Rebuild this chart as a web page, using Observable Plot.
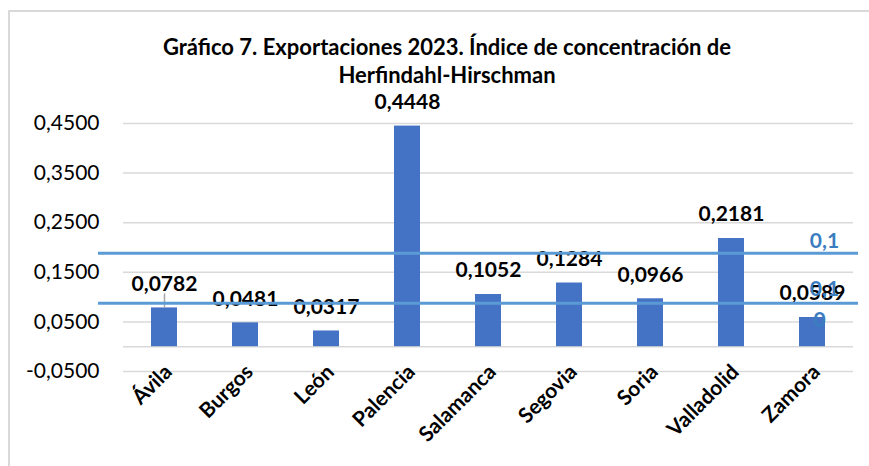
<!DOCTYPE html>
<html><head><meta charset="utf-8">
<script src="https://cdn.jsdelivr.net/npm/d3@7"></script>
<script src="https://cdn.jsdelivr.net/npm/@observablehq/plot@0.6"></script>
<style>
html,body{margin:0;padding:0;background:#fff;overflow:hidden;}
#wrap{position:relative;width:869px;height:466px;overflow:hidden;font-family:Lato,sans-serif;background:#fff;}
#bTop{position:absolute;left:8px;top:10px;width:861px;height:2px;background:#d9d9d9;}
#bLeft{position:absolute;left:8px;top:10px;width:2px;height:456px;background:#d9d9d9;}
#title{position:absolute;left:0;width:894px;top:33px;text-align:center;font-weight:bold;font-size:22px;line-height:28px;color:#000;}
#chart svg{position:absolute;left:0;top:0;}
</style>
</head><body>
<div id="wrap">
  <div id="bTop"></div>
  <div id="bLeft"></div>
  <div id="title">Gráfico 7. Exportaciones 2023. Índice de concentración de<br>Herfindahl-Hirschman</div>
  <div id="chart"></div>
</div>
<script>
const categories = ["Ávila","Burgos","León","Palencia","Salamanca","Segovia","Soria","Valladolid","Zamora"];
const values = [0.0782,0.0481,0.0317,0.4448,0.1052,0.1284,0.0966,0.2181,0.0589];
const yTicks = [-0.05,0.05,0.15,0.25,0.35,0.45];
const refLines = [0.1885,0.0877];
const refLabels = ["0,1","0,1","0"];

const fmt = d => d.toFixed(4).replace(".", ",");
const data = categories.map((c,i)=>({c, v: values[i]}));
const last = categories[categories.length-1];

const plot = Plot.plot({
  width: 869, height: 466,
  marginLeft: 98, marginRight: 11, marginTop: 123, marginBottom: 95,
  style: {fontFamily: "Lato, sans-serif", background: "transparent", overflow: "visible"},
  x: {domain: categories, paddingInner: 0.68, paddingOuter: 0.34, insetLeft: 24.5, insetRight: 5.5, label: null},
  y: {domain: [-0.05, 0.45], label: null},
  marks: [
    Plot.ruleY(yTicks, {stroke: "#d9d9d9", strokeWidth: 1.5, insetLeft: 25, insetRight: 5}),
    Plot.ruleY([0], {stroke: "#d9d9d9", strokeWidth: 1.5, insetLeft: 25, insetRight: 5}),
    Plot.axisY({ticks: yTicks, tickSize: 0, tickPadding: -1, tickFormat: fmt, fontSize: 21, fill: "#000", label: null}),
    Plot.axisX({tickSize: 0, tickRotate: -45, tickPadding: -3, dx: 4, fontSize: 21, fontWeight: "bold", fill: "#000", label: null}),
    Plot.barY(data, {x: "c", y: "v", fill: "#4472C4"}),
    Plot.ruleX([data[0]], {x: "c", y1: "v", y2: d => d.v + 0.028, stroke: "#a6a6a6", strokeWidth: 1.5}),
    Plot.text(data, {x: "c", y: "v", text: d => fmt(d.v), dy: -24, fontSize: 21, fontWeight: "bold", fill: "#000"}),
    Plot.ruleY(refLines, {stroke: "#5B9BD5", strokeWidth: 3}),
    Plot.text([refLabels[0]], {x: () => last, y: () => refLines[0], text: d => d, dx: 12, dy: -12, fontSize: 21, fontWeight: "bold", fill: "#3a7dc0"}),
    Plot.text([refLabels[1]], {x: () => last, y: () => refLines[1], text: d => d, dx: 12, dy: -14, fontSize: 21, fontWeight: "bold", fill: "#3a7dc0"}),
    Plot.text([refLabels[2]], {x: () => last, y: () => refLines[1], text: d => d, dx: 7, dy: 17, fontSize: 21, fontWeight: "bold", fill: "#3a7dc0"})
  ]
});
document.getElementById("chart").appendChild(plot);
</script>
</body></html>
